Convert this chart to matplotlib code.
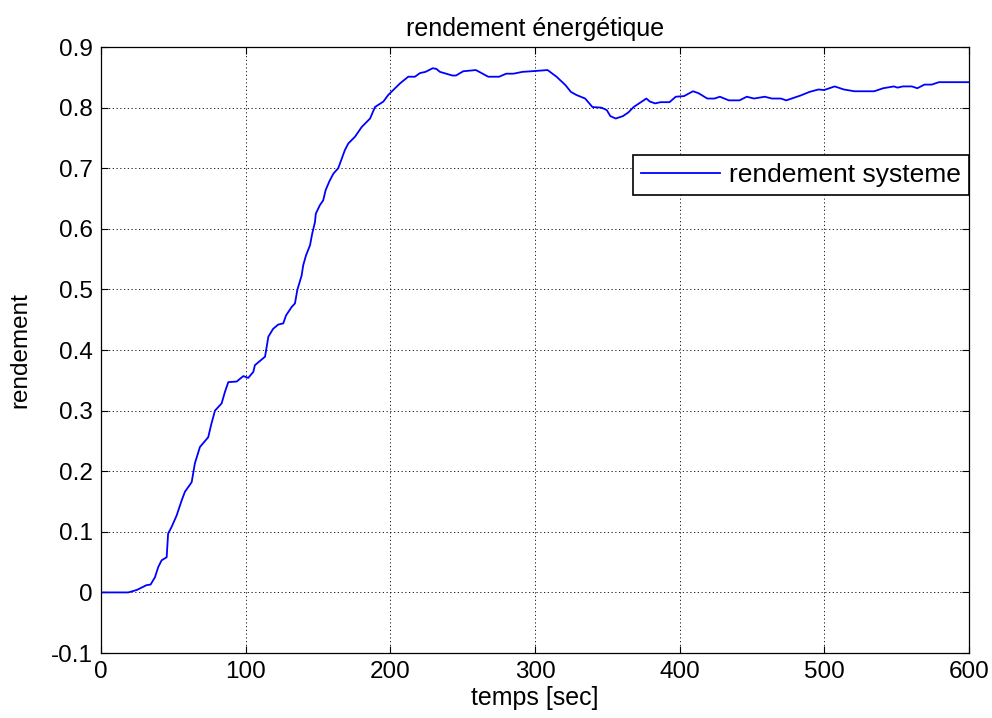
import matplotlib
matplotlib.use('Agg')
import matplotlib.pyplot as plt

plt.rcParams['font.family'] = ['Liberation Sans', 'DejaVu Sans']

# temps (s) et rendement
temps = [0, 18.9, 24.7, 31.5, 34.3, 37.3, 39.6, 41.9, 45.4, 46.4, 48.8, 52.3,
         55.8, 58.0, 62.7, 64.9, 68.4, 74.1, 76.4, 78.8, 83.4, 85.7, 88.0, 93.8,
         98.4, 101.8, 105.3, 106.4, 113.4, 115.7, 119.0, 122.5, 126.0, 127.9,
         131.8, 134.1, 135.7, 138.7, 139.8, 141.7, 144.5, 146.0, 147.9, 148.5,
         151.3, 153.6, 155.3, 157.8, 160.6, 164.0, 165.7, 168.6, 171.0, 175.6,
         180.2, 186.0, 189.4, 195.2, 198.6, 202.0, 206.7, 212.4, 217.0, 220.5,
         224.3, 229.3, 231.8, 234.3, 242.9, 245.4, 250.4, 259.1, 261.5, 267.7,
         275.2, 280.1, 285.1, 291.3, 297.5, 308.7, 314.9, 321.1, 324.8, 328.5,
         334.7, 339.7, 345.9, 349.6, 352.1, 355.8, 360.8, 364.5, 368.2, 372.0,
         377.0, 379.4, 383.1, 386.8, 393.0, 397.3, 403.0, 409.2, 412.9, 419.1,
         424.1, 427.8, 434.0, 441.4, 446.4, 451.4, 458.8, 463.8, 470.0, 473.7,
         478.7, 483.6, 489.8, 496.0, 499.8, 507.2, 513.4, 520.8, 534.5, 540.7,
         548.1, 550.6, 554.3, 560.5, 564.3, 569.2, 574.2, 579.2, 600.0]
rendement = [0.0, 0.0, 0.004, 0.012, 0.013, 0.025, 0.042, 0.053, 0.058, 0.097,
             0.108, 0.127, 0.152, 0.166, 0.182, 0.213, 0.240, 0.256, 0.279,
             0.300, 0.312, 0.331, 0.347, 0.348, 0.357, 0.354, 0.364, 0.375,
             0.389, 0.422, 0.435, 0.442, 0.444, 0.457, 0.471, 0.477, 0.499,
             0.523, 0.540, 0.556, 0.573, 0.592, 0.611, 0.625, 0.639, 0.647,
             0.664, 0.678, 0.691, 0.700, 0.711, 0.730, 0.741, 0.752, 0.768,
             0.782, 0.801, 0.810, 0.821, 0.829, 0.840, 0.851, 0.851, 0.857,
             0.859, 0.865, 0.864, 0.859, 0.853, 0.853, 0.860, 0.862, 0.859,
             0.851, 0.851, 0.856, 0.856, 0.859, 0.860, 0.862, 0.851, 0.837,
             0.826, 0.821, 0.815, 0.801, 0.800, 0.796, 0.786, 0.782, 0.786,
             0.792, 0.801, 0.807, 0.815, 0.810, 0.807, 0.809, 0.809, 0.818,
             0.819, 0.827, 0.824, 0.815, 0.815, 0.818, 0.812, 0.812, 0.818,
             0.815, 0.818, 0.815, 0.815, 0.812, 0.816, 0.820, 0.826, 0.830,
             0.829, 0.835, 0.830, 0.827, 0.827, 0.832, 0.835, 0.833, 0.835,
             0.835, 0.832, 0.838, 0.838, 0.842, 0.842]

xticks = [0, 100, 200, 300, 400, 500, 600]
yticks = [-0.1, 0, 0.1, 0.2, 0.3, 0.4, 0.5, 0.6, 0.7, 0.8, 0.9]
ylabels = ['-0.1', '0', '0.1', '0.2', '0.3', '0.4', '0.5', '0.6', '0.7', '0.8', '0.9']

fig = plt.figure(figsize=(9.92, 7.18), dpi=100)
ax = fig.add_axes([0.1018, 0.0905, 0.875, 0.844])

ax.plot(temps, rendement, color='#0000ff', linewidth=1.3, label='rendement systeme')

ax.set_xlim(0, 600)
ax.set_ylim(-0.1, 0.9)
ax.set_xticks(xticks)
ax.set_yticks(yticks)
ax.set_yticklabels(ylabels)
ax.tick_params(direction='in', top=True, right=True, length=5, width=0.8,
               labelsize=17.5, pad=6)
ax.grid(True, color='black', linestyle=(0, (1.5, 3)), linewidth=0.6)
for s in ax.spines.values():
    s.set_linewidth(0.9)

ax.set_title('rendement énergétique', fontsize=18, pad=8)
ax.set_xlabel('temps [sec]', fontsize=18, labelpad=2)
ax.set_ylabel('rendement', fontsize=17.5, labelpad=14)

leg = ax.legend(loc='upper right', bbox_to_anchor=(1.0, 0.822), fontsize=19,
                handlelength=3.0, handletextpad=0.35, borderpad=0.3,
                borderaxespad=0, fancybox=False, framealpha=1)
leg.get_frame().set_edgecolor('black')
leg.get_frame().set_linewidth(1.2)

fig.savefig('out.png', dpi=100, facecolor='white')
